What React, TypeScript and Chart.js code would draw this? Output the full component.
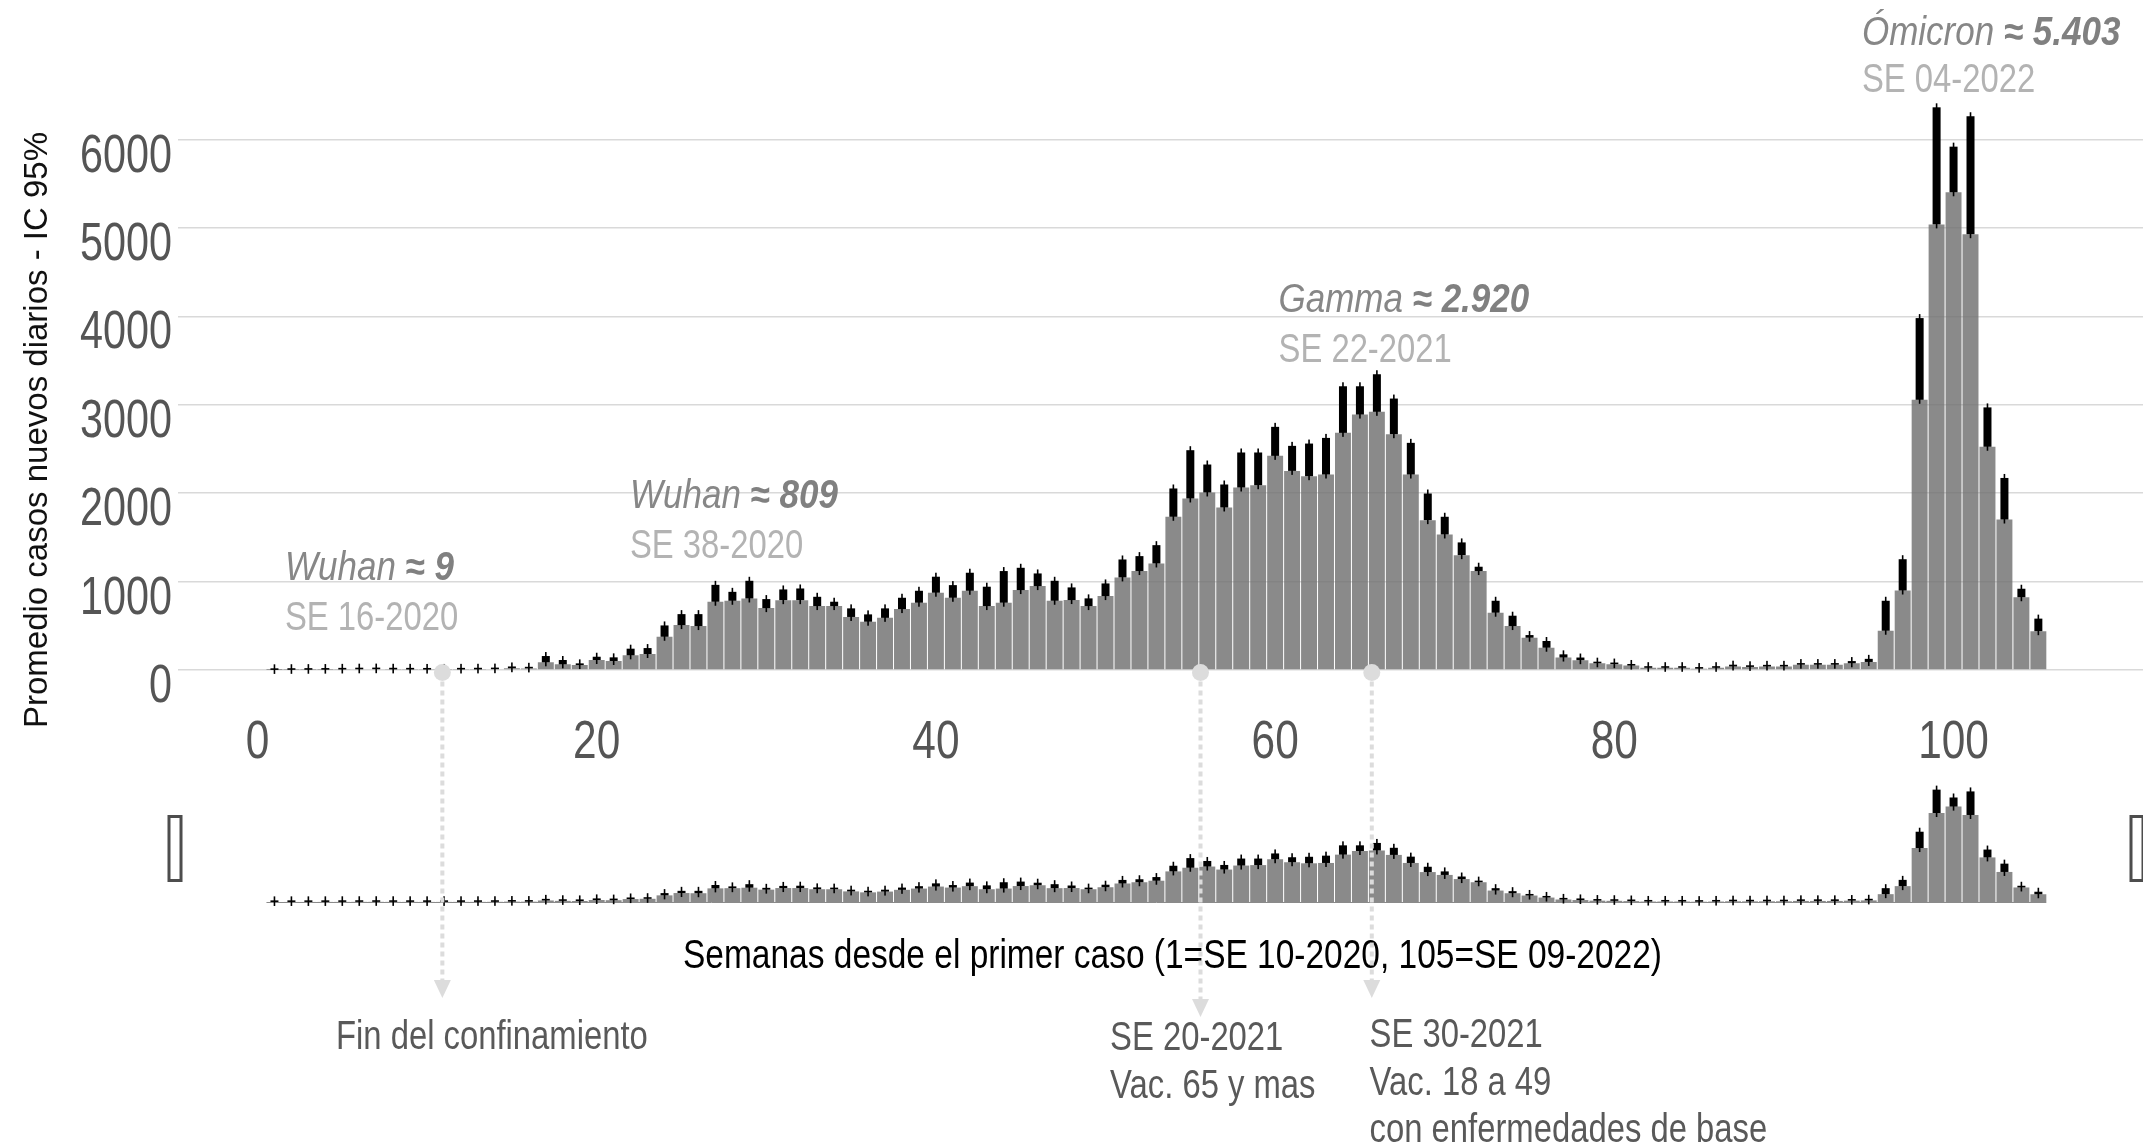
import React, { useEffect, useRef } from "react";
import { Chart, registerables } from "chart.js";

Chart.register(...registerables);

// ---------------- data ----------------
const semanas: number[] = Array.from({ length: 105 }, (_, i) => i + 1);

const casos: number[] = [
  1, 2, 3, 4, 6, 8, 9, 7, 6, 5, 5, 6, 7, 9, 20, 18,
  87, 64, 56, 113, 102, 166, 181, 376, 508, 497,
  772, 783, 809, 700, 790, 790, 723, 723, 600, 546,
  590, 689, 761, 874, 817, 896, 723, 761, 904, 949,
  783, 791, 723, 836, 1047, 1119, 1205, 1733, 1940, 2008,
  1838, 2064, 2090, 2422, 2252, 2192, 2211, 2682, 2889, 2920,
  2667, 2211, 1695, 1533, 1299, 1119, 648, 497, 365, 252,
  141, 111, 76, 66, 50, 25, 25, 25, 15, 25,
  40, 35, 40, 40, 60, 60, 60, 76, 91, 444,
  899, 3056, 5040, 5403, 4929, 2525, 1702, 823, 439,
];

const icSuperior: number[] = [
  3, 4, 5, 7, 9, 11, 12, 10, 9, 8, 8, 10, 12, 15, 40, 32,
  158, 113, 75, 150, 143, 241, 248, 504, 632, 632,
  963, 884, 1009, 802, 911, 922, 828, 772, 697, 629,
  697, 817, 896, 1055, 960, 1100, 942, 1119, 1156, 1092,
  1009, 934, 810, 979, 1250, 1288, 1412, 2053, 2486, 2324,
  2098, 2460, 2460, 2750, 2535, 2561, 2625, 3209, 3209, 3345,
  3070, 2569, 1996, 1733, 1443, 1168, 783, 614, 395, 328,
  177, 141, 91, 76, 60, 32, 32, 32, 22, 32,
  60, 45, 50, 50, 76, 72, 72, 101, 126, 783,
  1253, 3980, 6364, 5919, 6263, 2970, 2172, 919, 581,
];

const ticksY: number[] = [0, 1000, 2000, 3000, 4000, 5000, 6000];
const ticksX: number[] = [0, 20, 40, 60, 80, 100];

const picoNombres: string[] = ["Wuhan", "Wuhan", "Gamma", "Ómicron"];
const picoValores: string[] = ["9", "809", "2.920", "5.403"];
const picoSE: string[] = ["SE 16-2020", "SE 38-2020", "SE 22-2021", "SE 04-2022"];

const hitoSemanas: number[] = [10.9, 55.6, 65.7];
const hitoTextos: string[][] = [
  ["Fin del confinamiento"],
  ["SE 20-2021", "Vac. 65 y mas"],
  ["SE 30-2021", "Vac. 18 a 49", "con enfermedades de base"],
];

const tituloY = "Promedio casos nuevos diarios - IC 95%";
const tituloX = "Semanas desde el primer caso (1=SE 10-2020, 105=SE 09-2022)";

// ---------------- layout / style ----------------
const W = 2143;
const H = 1148;
const X_MIN = -4.687;
const X_MAX = 111.17;
const PLOT_TOP = 139.5;
const PLOT_BOTTOM = 670;
const PLOT_LEFT = 178;
const NAV_TOP = 770;
const NAV_H = 145;

const SANS = "'Liberation Sans', Arial, sans-serif";
const NARROW_X = 0.82; // horizontal condensing (Arial Narrow look)
const BAR = "rgba(112,112,112,0.82)";

// label anchors (week units for x, value units for y of first line)
const picoX = [1.62, 21.96, 60.2, 94.6];
const picoY = [1018, 1832, 4052, 7073];
const picoLinea2 = [50, 50, 50, 47];
const hitoTextoX = [4.63, 50.27, 65.57];
const hitoTextoY = [[1049], [1050, 1098], [1046.7, 1095, 1141.7]];
const hitoFlechaY = [998, 1017, 998];

// draw horizontally condensed text; returns advance width
function narrowText(
  ctx: CanvasRenderingContext2D,
  text: string,
  x: number,
  y: number,
  font: string,
  color: string,
  align: CanvasTextAlign = "left",
  sx: number = NARROW_X
): number {
  ctx.save();
  ctx.font = font;
  ctx.fillStyle = color;
  ctx.textAlign = align;
  ctx.textBaseline = "alphabetic";
  ctx.translate(x, y);
  ctx.scale(sx, 1);
  ctx.fillText(text, 0, 0);
  const w = ctx.measureText(text).width * sx;
  ctx.restore();
  return w;
}

function drawErrorBoxes(chart: any) {
  const ctx = chart.ctx;
  const xs = chart.scales.x;
  const ys = chart.scales.y;
  ctx.save();
  ctx.fillStyle = "#000";
  for (let i = 0; i < semanas.length; i++) {
    const x = xs.getPixelForValue(semanas[i]);
    const yv = ys.getPixelForValue(casos[i]);
    const yu = ys.getPixelForValue(icSuperior[i]);
    const h = Math.max(yv - yu, 1.6);
    ctx.fillRect(x - 4, yv - h, 8, h);
    ctx.fillRect(x - 0.8, yv - h - 4, 1.6, h + 8);
  }
  ctx.restore();
}

const mainPlugin = {
  id: "mainDecor",
  afterDatasetsDraw(chart: any) {
    drawErrorBoxes(chart);
  },
  afterDraw(chart: any) {
    const ctx: CanvasRenderingContext2D = chart.ctx;
    const xs = chart.scales.x;
    const ys = chart.scales.y;
    const area = chart.chartArea;
    ctx.save();

    // tick labels from the scales
    const tickFont = `53px ${SANS}`;
    ys.ticks.forEach((t: any) => {
      const y = ys.getPixelForValue(t.value);
      narrowText(ctx, String(t.value), area.left - 6, y + 32, tickFont, "#555", "right", 0.78);
    });
    xs.ticks.forEach((t: any) => {
      const x = xs.getPixelForValue(t.value);
      narrowText(ctx, String(t.value), x, area.bottom + 88, tickFont, "#555", "center", 0.8);
    });

    // y title
    ctx.save();
    ctx.translate(47, 430);
    ctx.rotate(-Math.PI / 2);
    ctx.font = `33px ${SANS}`;
    ctx.fillStyle = "#111";
    ctx.textAlign = "center";
    ctx.textBaseline = "alphabetic";
    ctx.fillText(tituloY, 0, 0);
    ctx.restore();

    // x title
    narrowText(ctx, tituloX, (area.left + area.right) / 2 + 12, 968, `40px ${SANS}`, "#000", "center", 0.837);

    // peak labels
    for (let i = 0; i < picoNombres.length; i++) {
      const x = xs.getPixelForValue(picoX[i]);
      const y = ys.getPixelForValue(picoY[i]);
      const w = narrowText(ctx, picoNombres[i] + " ", x, y, `italic 40px ${SANS}`, "#878787", "left", 0.875);
      narrowText(ctx, "≈ " + picoValores[i], x + w, y, `italic bold 40px ${SANS}`, "#808080", "left", 0.875);
      narrowText(ctx, picoSE[i], x, y + picoLinea2[i], `40px ${SANS}`, "#b3b3b3");
    }

    // milestone labels
    for (let i = 0; i < hitoTextos.length; i++) {
      const x = xs.getPixelForValue(hitoTextoX[i]);
      hitoTextos[i].forEach((t, j) => narrowText(ctx, t, x, hitoTextoY[i][j], `40px ${SANS}`, "#595959"));
    }

    // milestone markers (dotted arrows)
    for (let i = 0; i < hitoSemanas.length; i++) {
      const x = xs.getPixelForValue(hitoSemanas[i]);
      const cy = area.bottom + 2.5;
      const tip = hitoFlechaY[i];
      ctx.strokeStyle = "#dcdcdc";
      ctx.lineWidth = 4;
      ctx.setLineDash([5, 4]);
      ctx.beginPath();
      ctx.moveTo(x, cy + 9);
      ctx.lineTo(x, tip - 18);
      ctx.stroke();
      ctx.setLineDash([]);
      ctx.fillStyle = "#dcdcdc";
      ctx.beginPath();
      ctx.moveTo(x - 8.5, tip - 18);
      ctx.lineTo(x + 8.5, tip - 18);
      ctx.lineTo(x, tip);
      ctx.closePath();
      ctx.fill();
      ctx.beginPath();
      ctx.arc(x, cy, 8.5, 0, Math.PI * 2);
      ctx.fill();
    }
    ctx.restore();
  },
};

const navPlugin = {
  id: "navDecor",
  beforeDatasetsDraw(chart: any) {
    const ctx = chart.ctx;
    const xs = chart.scales.x;
    const area = chart.chartArea;
    ctx.save();
    ctx.strokeStyle = "#8a8a8a";
    ctx.lineWidth = 1;
    ctx.beginPath();
    ctx.moveTo(xs.getPixelForValue(semanas[0]) - 8, area.bottom + 0.5);
    ctx.lineTo(xs.getPixelForValue(semanas[semanas.length - 1]) + 8, area.bottom + 0.5);
    ctx.stroke();
    ctx.restore();
  },
  afterDatasetsDraw(chart: any) {
    drawErrorBoxes(chart);
    const ctx = chart.ctx;
    const area = chart.chartArea;
    ctx.save();
    ctx.fillStyle = "#fff";
    ctx.strokeStyle = "#4d4d4d";
    ctx.lineWidth = 3;
    const hy = 46.5;
    const hh = 64;
    const hw = 12;
    [area.left - 3, area.right - 6].forEach((cx) => {
      ctx.fillRect(cx - hw / 2, hy, hw, hh);
      ctx.strokeRect(cx - hw / 2, hy, hw, hh);
    });
    ctx.restore();
  },
};

export default function App() {
  const mainRef = useRef<HTMLCanvasElement>(null);
  const navRef = useRef<HTMLCanvasElement>(null);

  useEffect(() => {
    const points = semanas.map((w, i) => ({ x: w, y: casos[i] }));

    const main = new Chart(mainRef.current as HTMLCanvasElement, {
      type: "bar",
      data: {
        datasets: [
          {
            data: points as any,
            backgroundColor: BAR,
            borderWidth: 0,
            barPercentage: 0.94,
            categoryPercentage: 1,
          },
        ],
      },
      options: {
        responsive: false,
        animation: false,
        devicePixelRatio: 1,
        layout: { padding: { top: PLOT_TOP, left: 0, right: 0, bottom: 0 } },
        plugins: { legend: { display: false }, tooltip: { enabled: false } },
        scales: {
          x: {
            type: "linear",
            min: X_MIN,
            max: X_MAX,
            offset: false,
            afterBuildTicks: (s: any) => {
              s.ticks = ticksX.map((v) => ({ value: v }));
            },
            afterFit: (s: any) => {
              s.height = H - PLOT_BOTTOM;
            },
            grid: { display: false, drawTicks: false, tickLength: 0 },
            border: { display: false },
            ticks: { display: false },
          },
          y: {
            type: "linear",
            min: 0,
            max: 6000,
            afterBuildTicks: (s: any) => {
              s.ticks = ticksY.map((v) => ({ value: v }));
            },
            afterFit: (s: any) => {
              s.width = PLOT_LEFT;
            },
            grid: { color: "#d9d9d9", lineWidth: 1.5, drawTicks: false, tickLength: 0 },
            border: { display: false },
            ticks: { display: false },
          },
        },
      } as any,
      plugins: [mainPlugin],
    });

    const nav = new Chart(navRef.current as HTMLCanvasElement, {
      type: "bar",
      data: {
        datasets: [
          {
            data: points as any,
            backgroundColor: BAR,
            borderWidth: 0,
            barPercentage: 0.94,
            categoryPercentage: 1,
          },
        ],
      },
      options: {
        responsive: false,
        animation: false,
        devicePixelRatio: 1,
        layout: { padding: { top: 19, left: PLOT_LEFT, right: 0, bottom: 13 } },
        plugins: { legend: { display: false }, tooltip: { enabled: false } },
        scales: {
          x: { type: "linear", min: X_MIN, max: X_MAX, offset: false, display: false },
          y: { type: "linear", min: 0, max: 6400, display: false },
        },
      } as any,
      plugins: [navPlugin],
    });

    return () => {
      main.destroy();
      nav.destroy();
    };
  }, []);

  return (
    <div
      style={{
        position: "absolute",
        left: 0,
        top: 0,
        width: W,
        height: H,
        overflow: "hidden",
        background: "#fff",
      }}
    >
      <canvas
        ref={navRef}
        width={W}
        height={NAV_H}
        style={{ position: "absolute", left: 0, top: NAV_TOP, zIndex: 1, width: W, height: NAV_H }}
      />
      <canvas
        ref={mainRef}
        width={W}
        height={H}
        style={{ position: "absolute", left: 0, top: 0, zIndex: 2, width: W, height: H }}
      />
    </div>
  );
}
